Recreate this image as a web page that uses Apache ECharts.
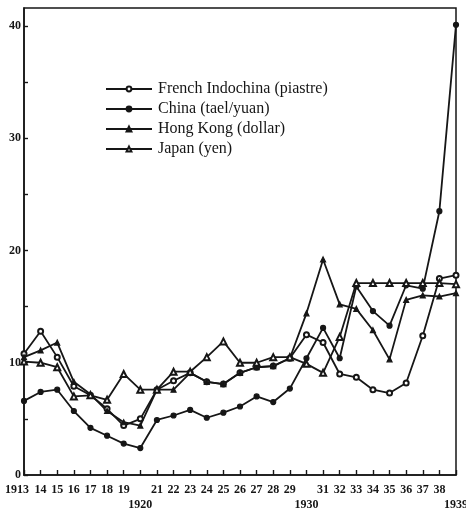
<!DOCTYPE html>
<html><head><meta charset="utf-8">
<script src="https://cdn.jsdelivr.net/npm/echarts@6/dist/echarts.min.js"></script>
<style>html,body{margin:0;padding:0;background:#fff}#c{width:466px;height:509px}</style>
</head><body><div id="c"></div>
<script>
const years = ['1913','1914','1915','1916','1917','1918','1919','1920','1921','1922','1923','1924','1925','1926','1927','1928','1929','1930','1931','1932','1933','1934','1935','1936','1937','1938','1939'];
const frenchIndochina = [10.8,12.8,10.5,7.9,7.1,5.9,4.4,5.0,7.6,8.4,9.1,8.3,8.1,9.1,9.6,9.7,10.4,12.5,11.8,9.0,8.7,7.6,7.3,8.2,12.4,17.5,17.8];
const china = [6.6,7.4,7.6,5.7,4.2,3.5,2.8,2.4,4.9,5.3,5.8,5.1,5.55,6.1,7.0,6.5,7.7,10.4,13.1,10.4,16.8,14.6,13.3,16.9,16.6,23.5,40.1];
const hongKong = [10.5,11.1,11.8,8.3,7.2,5.7,4.7,4.4,7.6,7.6,9.1,8.3,8.1,9.1,9.6,9.7,10.4,14.4,19.2,15.2,14.8,12.9,10.3,15.6,16.0,15.9,16.2];
const japan = [10.1,10.0,9.6,7.0,7.1,6.7,9.0,7.6,7.6,9.2,9.2,10.5,11.9,10.0,10.0,10.5,10.5,9.9,9.1,12.3,17.1,17.1,17.1,17.1,17.1,17.1,17.0];
const seriesNames = ['French Indochina (piastre)','China (tael/yuan)','Hong Kong (dollar)','Japan (yen)'];
const yTickLabels = [0,10,20,30,40];
const xSecondRowYears = ['1920','1930','1939'];

const INK = '#161616';
const FONT = 'Liberation Serif';
function mk(name, vals, symbol, size){
  return {
    name, type:'line', data: vals, symbol, symbolSize:size,
    lineStyle:{color:INK,width:1.8}, itemStyle:{color:INK,borderColor:INK,borderWidth:1.2},
    emphasis:{disabled:true}, animation:false, z:3
  };
}
const chart = echarts.init(document.getElementById('c'), null, {renderer:'canvas'});
chart.setOption({
  backgroundColor:'#fff',
  animation:false,
  grid:{left:24,right:10,top:8,bottom:34,outerBoundsMode:'none',containLabel:false,show:true,borderColor:INK,borderWidth:1.5,backgroundColor:'transparent'},
  legend:{
    orient:'vertical', left:100, top:76, itemWidth:46, itemHeight:6, itemGap:4,
    textStyle:{fontFamily:FONT,fontSize:16,color:INK,padding:[0,0,0,1]},
    data:seriesNames, selectedMode:false
  },
  xAxis:{
    type:'category', data:years, boundaryGap:false,
    axisLine:{lineStyle:{color:INK,width:1.6}},
    axisTick:{inside:true,length:5,interval:0,lineStyle:{color:INK,width:1.4}},
    splitLine:{show:false},
    axisLabel:{
      interval:0,
      fontFamily:FONT,fontSize:12,fontWeight:'bold',color:INK,margin:7,lineHeight:15,
      formatter:function(v){
        if (v==='1913') return '{f|1913}';
        if (xSecondRowYears.indexOf(v)>=0) return '\n'+v;
        return v.slice(2);
      },
      rich:{f:{fontFamily:FONT,fontSize:12,fontWeight:'bold',color:INK,lineHeight:15,padding:[0,14,0,0]}}
    }
  },
  yAxis:{
    type:'value', min:0, max:41.6, interval:5,
    axisLine:{show:true,lineStyle:{color:INK,width:1.6}},
    axisTick:{show:true,inside:true,length:4,lineStyle:{color:INK,width:1.4}},
    splitLine:{show:false},
    axisLabel:{
      fontFamily:FONT,fontSize:12,fontWeight:'bold',color:INK,margin:3,
      showMaxLabel:false,
      formatter:function(v){ return yTickLabels.indexOf(v)>=0 ? String(v) : ''; }
    }
  },
  series:[
    mk(seriesNames[0], frenchIndochina, 'emptyCircle', 5),
    mk(seriesNames[1], china, 'circle', 5),
    mk(seriesNames[2], hongKong, 'triangle', 5),
    mk(seriesNames[3], japan, 'emptyTriangle', 6)
  ]
});
</script>
</body></html>
